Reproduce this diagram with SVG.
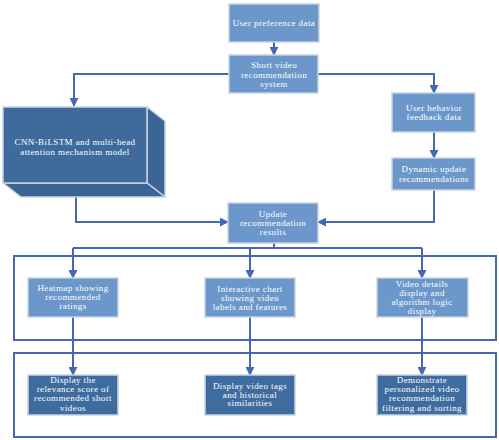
<svg xmlns="http://www.w3.org/2000/svg" width="499" height="440" viewBox="0 0 499 440">
<defs>
<style>
.lt{fill:#6C97CB;stroke:#C9D3DF;stroke-width:1.5}
.dk{fill:#3F6C9F;stroke:#C9D3DF;stroke-width:1.5}
.cube{fill:#3E6B9C;stroke:#C9D3DF;stroke-width:1.5;stroke-linejoin:round}
.cside{fill:#3A6594;stroke:#C9D3DF;stroke-width:1.5;stroke-linejoin:round}
.ln{fill:none;stroke:#4668B4;stroke-width:2}
.ct{fill:none;stroke:#4668B4;stroke-width:2}
text{font-family:"Liberation Serif","Times New Roman",serif;font-size:9px;fill:#FFFFFF;text-anchor:middle;letter-spacing:0.4px}
</style>
<marker id="ah" viewBox="0 0 10 10" refX="9" refY="5" markerWidth="4.5" markerHeight="4.5" orient="auto" markerUnits="strokeWidth">
<path d="M0,0 L10,5 L0,10 z" fill="#4668B4"/>
</marker>
</defs>
<rect width="499" height="440" fill="#FFFFFF"/>

<g id="containers">
<rect class="ct" x="14" y="256" width="482" height="84"/>
<rect class="ct" x="14" y="353" width="482" height="84"/>
</g>

<g id="connectors">
<path class="ln" d="M274,42 V55" marker-end="url(#ah)"/>
<path class="ln" d="M229,74 H74 V106" marker-end="url(#ah)"/>
<path class="ln" d="M318,74 H434 V93" marker-end="url(#ah)"/>
<path class="ln" d="M434,132 V158" marker-end="url(#ah)"/>
<path class="ln" d="M434,190 V222 H318" marker-end="url(#ah)"/>
<path class="ln" d="M76,197 V222 H228" marker-end="url(#ah)"/>
<path class="ln" d="M274,243 V248"/>
<path class="ln" d="M73,248 H422"/>
<path class="ln" d="M73,248 V278" marker-end="url(#ah)"/>
<path class="ln" d="M250,248 V278" marker-end="url(#ah)"/>
<path class="ln" d="M422,248 V278" marker-end="url(#ah)"/>
<path class="ln" d="M73,317 V375" marker-end="url(#ah)"/>
<path class="ln" d="M250,317 V375" marker-end="url(#ah)"/>
<path class="ln" d="M422,317 V375" marker-end="url(#ah)"/>
</g>

<g id="user-preference">
<rect class="lt" x="229" y="4" width="90" height="38"/>
<text x="274" y="26">User preference data</text>
</g>

<g id="short-video-system">
<rect class="lt" x="229" y="55" width="89" height="38"/>
<text x="274" y="68">Short video</text>
<text x="274" y="77.5">recommendation</text>
<text x="274" y="87">system</text>
</g>

<g id="model">
<polygon class="cside" points="147,107 165,121 165,197 147,183"/>
<polygon class="cside" points="3,183 147,183 165,197 21,197"/>
<rect class="cube" x="3" y="107" width="144" height="76"/>
<text x="75" y="145">CNN-BiLSTM and multi-head</text>
<text x="75" y="155">attention mechanism model</text>
</g>

<g id="user-behavior">
<rect class="lt" x="392" y="93" width="83" height="39"/>
<text x="434" y="111">User behavior</text>
<text x="434" y="120">feedback data</text>
</g>

<g id="dynamic-update">
<rect class="lt" x="392" y="158" width="83" height="32"/>
<text x="434" y="172">Dynamic update</text>
<text x="434" y="182">recommendations</text>
</g>

<g id="update-results">
<rect class="lt" x="228" y="203" width="90" height="40"/>
<text x="273" y="217">Update</text>
<text x="273" y="226">recommendation</text>
<text x="273" y="235">results</text>
</g>

<g id="heatmap">
<rect class="lt" x="28" y="278" width="90" height="39"/>
<text x="73" y="291">Heatmap showing</text>
<text x="73" y="300">recommended</text>
<text x="73" y="309">ratings</text>
</g>

<g id="interactive-chart">
<rect class="lt" x="205" y="278" width="90" height="39"/>
<text x="250" y="292">Interactive chart</text>
<text x="250" y="301">showing video</text>
<text x="250" y="310">labels and features</text>
</g>

<g id="video-details">
<rect class="lt" x="377" y="278" width="91" height="39"/>
<text x="422" y="287">Video details</text>
<text x="422" y="295.5">display and</text>
<text x="422" y="305">algorithm logic</text>
<text x="422" y="314">display</text>
</g>

<g id="relevance-score">
<rect class="dk" x="28" y="375" width="90" height="40"/>
<text x="73" y="383">Display the</text>
<text x="73" y="392">relevance score of</text>
<text x="73" y="401">recommended short</text>
<text x="73" y="411">videos</text>
</g>

<g id="video-tags">
<rect class="dk" x="205" y="375" width="90" height="40"/>
<text x="250" y="389">Display video tags</text>
<text x="250" y="397.5">and historical</text>
<text x="250" y="406">similarities</text>
</g>

<g id="personalized">
<rect class="dk" x="377" y="375" width="90" height="40"/>
<text x="422" y="383">Demonstrate</text>
<text x="422" y="392">personalized video</text>
<text x="422" y="401">recommendation</text>
<text x="422" y="411">filtering and sorting</text>
</g>
</svg>
